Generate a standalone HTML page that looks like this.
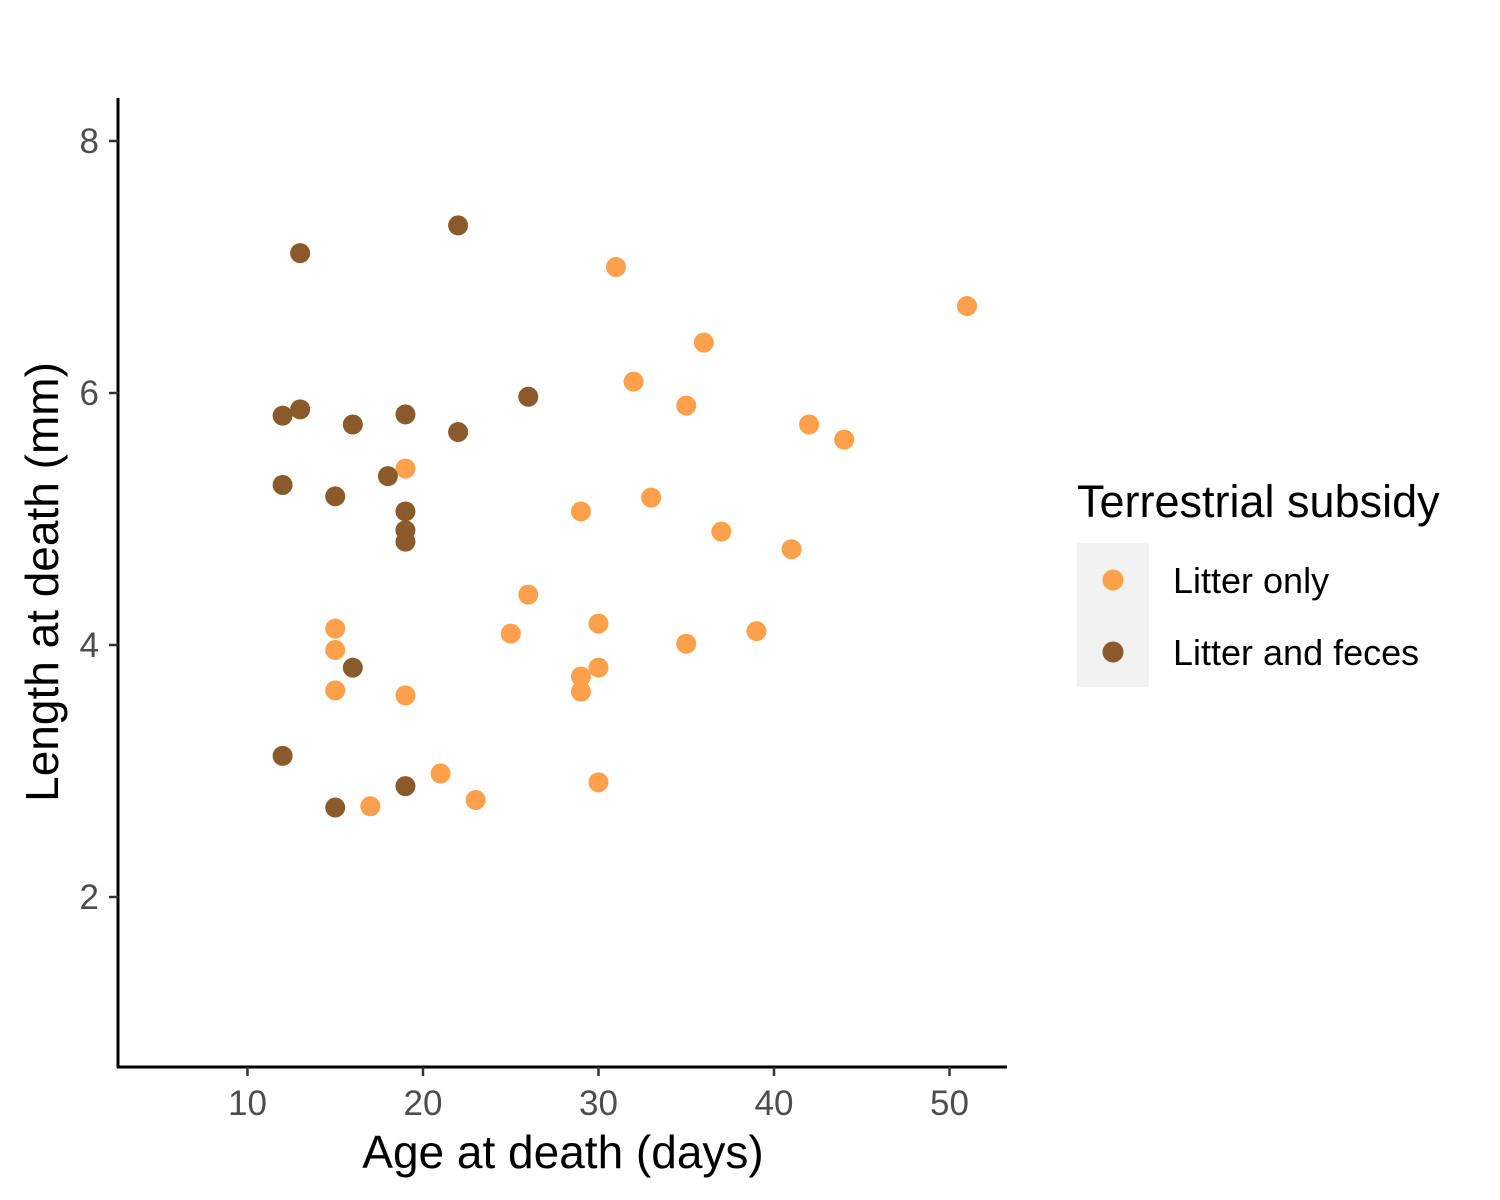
<!DOCTYPE html>
<html><head><meta charset="utf-8"><style>
body{margin:0;background:#fff;}
svg{display:block;font-family:"Liberation Sans",Arial,sans-serif;}
</style></head><body>
<svg id="chart" width="1500" height="1200" xmlns="http://www.w3.org/2000/svg">
<g id="points"></g>
<g id="axes"></g>
<text x="563" y="1168" font-size="46" text-anchor="middle" fill="#000">Age at death (days)</text>
<text transform="translate(58,582) rotate(-90)" font-size="46" text-anchor="middle" fill="#000">Length at death (mm)</text>
<g>
<text x="1077" y="517" font-size="45" fill="#000">Terrestrial subsidy</text>
<rect x="1077" y="543" width="72" height="144" fill="#F2F2F2"/>
<circle cx="1113" cy="580" r="10.5" fill="#FDA04B"/>
<circle cx="1113" cy="652" r="10.5" fill="#8B5A2B"/>
<text x="1173" y="593" font-size="36" fill="#000">Litter only</text>
<text x="1173" y="665" font-size="36" fill="#000">Litter and feces</text>
</g>
</svg>
<script>
const litterAge=[31,51,36,32,35,42,44,19,33,29,37,41,26,30,15,39,25,35,15,30,29,15,29,19,21,30,23,17];
const litterLen=[7.00,6.69,6.40,6.09,5.90,5.75,5.63,5.40,5.17,5.06,4.90,4.76,4.40,4.17,4.13,4.11,4.09,4.01,3.96,3.82,3.75,3.64,3.63,3.60,2.98,2.91,2.77,2.72];
const fecesAge=[22,13,26,13,19,12,16,22,18,12,15,19,19,19,16,12,19,15];
const fecesLen=[7.33,7.11,5.97,5.87,5.83,5.82,5.75,5.69,5.34,5.27,5.18,5.06,4.91,4.82,3.82,3.12,2.88,2.71];
const xTicks=[10,20,30,40,50];
const yTicks=[2,4,6,8];
const NS="http://www.w3.org/2000/svg";
function xs(v){return 247.5+17.55*(v-10);}
function ys(v){return 897-126*(v-2);}
const pg=document.getElementById('points');
function draw(ages,lens,col,name){
  ages.forEach((a,i)=>{
    const c=document.createElementNS(NS,'circle');
    c.setAttribute('cx',xs(a));c.setAttribute('cy',ys(lens[i]));c.setAttribute('r',10);c.setAttribute('fill',col);
    
    
    pg.appendChild(c);
  });
}
draw(litterAge,litterLen,'#FDA04B','point-litter-only');
draw(fecesAge,fecesLen,'#8B5A2B','point-litter-and-feces');
const ax=document.getElementById('axes');
function el(tag,attrs,txt){const e=document.createElementNS(NS,tag);for(const k in attrs)e.setAttribute(k,attrs[k]);if(txt!==undefined)e.textContent=txt;ax.appendChild(e);return e;}
let l=el('line',{x1:118,y1:98,x2:118,y2:1068,stroke:'#000','stroke-width':3});


l=el('line',{x1:117,y1:1067,x2:1007,y2:1067,stroke:'#000','stroke-width':3});


xTicks.forEach(t=>{
  const k=el('line',{x1:xs(t),y1:1067,x2:xs(t),y2:1076,stroke:'#333','stroke-width':2.5});
  
  
  const tx=el('text',{x:xs(t),y:1115,'font-size':35,'text-anchor':'middle',fill:'#4D4D4D'},String(t));
  
  
});
yTicks.forEach(t=>{
  const k=el('line',{x1:109,y1:ys(t),x2:118,y2:ys(t),stroke:'#333','stroke-width':2.5});
  
  
  const tx=el('text',{x:99,y:ys(t)+12,'font-size':35,'text-anchor':'end',fill:'#4D4D4D'},String(t));
  
  
});
</script>
</body></html>
